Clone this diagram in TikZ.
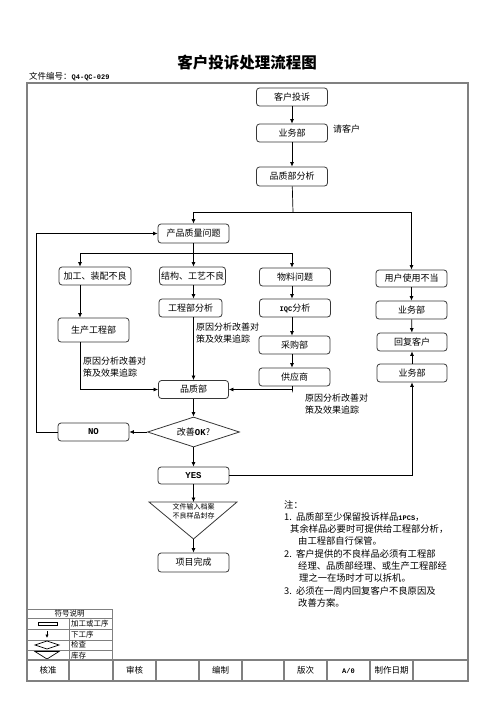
\documentclass[tikz,border=0pt]{standalone}
\usepackage{fontspec}
\setmainfont{Noto Sans CJK SC}
\setmonofont{Liberation Mono}
\usepackage{tikz}
\usetikzlibrary{positioning,arrows.meta,shapes.geometric,calc}
\definecolor{frm}{RGB}{128,128,128}
\definecolor{edge}{RGB}{55,55,55}
\tikzset{
    blk/.style={rectangle,draw=edge,line width=0.8pt,rounded corners=3pt,fill=white,minimum width=71pt,minimum height=18pt,inner sep=1pt,font=\fontsize{9}{11}\selectfont},
    chk/.style={diamond,draw=edge,line width=0.8pt,aspect=3,minimum width=92pt,minimum height=30pt,inner sep=0pt,font=\fontsize{9}{11}\selectfont},
    note/.style={inner sep=0pt,align=left,font=\fontsize{9}{12}\selectfont},
    arr/.style={-{Latex[length=4.5pt,width=4pt]},line width=0.7pt},
    ln/.style={line width=0.7pt},
    cell/.style={inner sep=0pt,font=\fontsize{8.5}{10}\selectfont},
    tiny/.style={inner sep=0pt,anchor=west,font=\fontsize{7.5}{8}\selectfont},
}
\newcommand{\lat}[1]{{\ttfamily\bfseries #1}}
\newcommand{\slat}[1]{{\fontsize{7}{8}\selectfont\ttfamily\bfseries #1}}

\begin{document}
\begin{tikzpicture}[x=1pt,y=-1pt]
\useasboundingbox (0,0) rectangle (496,702);

% title and frame
\node[font=\fontsize{15.5}{18}\selectfont\bfseries] (title) at (247,63) {客户投诉处理流程图};
\node[anchor=west,inner sep=0pt,font=\fontsize{8.5}{10}\selectfont] (fno) at (29,77) {文件编号：\slat{Q4-QC-029}};
\draw[frm,line width=1.5pt] (27,83) rectangle (468,681);

% main column
\node[blk] (ts) at (292,97) {客户投诉};
\node[blk] (yw1) at (292,133) {业务部};
\node[anchor=west,inner sep=0pt,font=\fontsize{9}{11}\selectfont] (qkh) at (333,129) {请客户};
\node[blk,minimum height=19pt] (pzfx) at (292,176.5) {品质部分析};
\node[blk,minimum height=19pt] (cpzl) at (193.5,233.5) {产品质量问题};

% problem types
\node[blk,minimum width=72pt] (jgzp) at (95,276) {加工、装配不良};
\node[blk,minimum width=66pt] (jggy) at (192.5,276) {结构、工艺不良};
\node[blk] (wlwt) at (295,277) {物料问题};
\node[blk,minimum height=17pt] (yhsy) at (411.5,278.5) {用户使用不当};

\node[blk,minimum height=24pt] (scgc) at (93.5,330) {生产工程部};
\node[blk,minimum width=63pt] (gcfx) at (190.5,308) {工程部分析};
\node[blk] (iqc) at (295,308) {\slat{IQC}分析};
\node[blk] (cgb) at (294.5,345) {采购部};
\node[blk] (gys) at (294.5,377) {供应商};
\node[blk] (yw2) at (411.5,310) {业务部};
\node[blk,minimum width=70pt] (hfkh) at (412,342) {回复客户};
\node[blk,minimum width=70pt] (yw3) at (412,373) {业务部};

\node[note,anchor=north west] (lbl1) at (196,323) {原因分析改善对\\策及效果追踪};
\node[note,anchor=north west] (lbl2) at (83,357) {原因分析改善对\\策及效果追踪};
\node[note,anchor=north west] (lbl3) at (305,393.5) {原因分析改善对\\策及效果追踪};

\node[blk,minimum width=70pt] (pzb) at (193.5,389.5) {品质部};
\node[chk] (gsok) at (193.5,432) {改善\lat{OK}?};
\node[blk] (no) at (93.5,432) {\lat{NO}};
\node[blk,minimum height=17pt] (yes) at (193.5,475.5) {\lat{YES}};

% storage triangle
\coordinate (t1) at (149,502);
\coordinate (t2) at (237,502);
\coordinate (ka) at (193.5,539);
\draw[draw=edge,line width=0.8pt] (t1) -- (t2) -- (ka) -- cycle;
\node[inner sep=0pt,align=center,font=\fontsize{7}{9}\selectfont] (kc) at (193.5,511) {文件输入档案\\不良样品封存};
\node[blk,minimum height=19pt] (xmwc) at (193.5,562.5) {项目完成};

% connectors
\coordinate (j1) at (293,212);
\coordinate (b1) at (80,253);
\coordinate (b3) at (292,253);
\draw[arr] (ts) -- (yw1);
\draw[arr] (yw1) -- (pzfx);
\draw[ln] (pzfx) -- (j1);
\draw[arr] (j1) -| (cpzl);
\draw[arr] (j1) -| (yhsy);
\draw[ln] (cpzl.south) -- (cpzl.south |- b1);
\draw[ln] (b1) -- (b3);
\draw[arr] (b1) -- (b1 |- jgzp.north);
\draw[arr] (cpzl.south |- b1) -- (cpzl.south |- jggy.north);
\draw[arr] (b3) -- (b3 |- wlwt.north);
\draw[arr] (b1 |- jgzp.south) -- (b1 |- scgc.north);
\draw[arr] (b1 |- scgc.south) |- (pzb);
\draw[arr] (cpzl.south |- jggy.south) -- (cpzl.south |- gcfx.north);
\draw[arr] (cpzl.south |- gcfx.south) -- (pzb);
\draw[arr] (b3 |- wlwt.south) -- (b3 |- iqc.north);
\draw[arr] (b3 |- iqc.south) -- (b3 |- cgb.north);
\draw[arr] (b3 |- cgb.south) -- (b3 |- gys.north);
\draw[arr] (b3 |- gys.south) -- ++(0,6) |- (pzb.east);
\draw[arr] (yhsy) -- (yw2);
\draw[arr] (yw2) -- (hfkh);
\draw[arr] (yw3) -- (hfkh);
\draw[arr] (pzb) -- (gsok);
\draw[arr] (gsok) -- (no);
\draw[arr] (no.west) -- ++(-21,0) |- (cpzl);
\draw[arr] (gsok) -- (yes);
\draw[arr] (yes.east) -| (yw3);
\draw[arr] (yes.south) -- (yes.south |- t1);
\draw[arr] (ka) -- (xmwc);

% notes
\node[note,anchor=north west,font=\fontsize{9.3}{12.3}\selectfont] (notes) at (284,500) {注：\\
1.\ \ 品质部至少保留投诉样品\slat{1PCS}，\\
\hspace*{6pt}其余样品必要时可提供给工程部分析，\\
\hspace*{14pt}由工程部自行保管。\\
2.\ \ 客户提供的不良样品必须有工程部\\
\hspace*{14pt}经理、品质部经理、或生产工程部经\\
\hspace*{15pt}理之一在场时才可以拆机。\\
3.\ \ 必须在一周内回复客户不良原因及\\
\hspace*{14pt}改善方案。};

% legend
\draw[frm,line width=0.6pt] (27,609) rectangle (112,660);
\foreach \y in {618,629,640,650} \draw[frm,line width=0.6pt] (27,\y) -- (112,\y);
\draw[frm,line width=0.6pt] (69,618) -- (69,660);
\node[inner sep=0pt,font=\fontsize{7.5}{8}\selectfont] (fh) at (69.5,613.5) {符号说明};
\draw[line width=0.8pt] (38,622) rectangle (57,625.5);
\draw[-{Latex[length=3.5pt,width=3.5pt]},line width=0.7pt] (47,631) -- (47,638);
\draw[line width=0.7pt] (35,645) -- (47,641) -- (59,645) -- (47,649) -- cycle;
\draw[line width=0.7pt] (35,651.5) -- (59,651.5) -- (47,659) -- cycle;
\node[tiny] (lg1) at (71,623.5) {加工或工序};
\node[tiny] (lg2) at (71,634.5) {下工序};
\node[tiny] (lg3) at (71,645) {检查};
\node[tiny] (lg4) at (71,655.5) {库存};

% sign-off row
\draw[frm,line width=1.3pt] (27,660) -- (468,660);
\foreach \x in {69,113,156,199,242,284,327,370,413}
    \draw[frm,line width=1.3pt] (\x,660) -- (\x,681);
\node[cell] (c1) at (48,670.5) {核准};
\node[cell] (c3) at (134.5,670.5) {审核};
\node[cell] (c5) at (220.5,670.5) {编制};
\node[cell] (c7) at (305.5,670.5) {版次};
\node[cell] (c8) at (348.5,670.5) {\slat{A/0}};
\node[cell] (c9) at (391.5,670.5) {制作日期};
\end{tikzpicture}
\end{document}
